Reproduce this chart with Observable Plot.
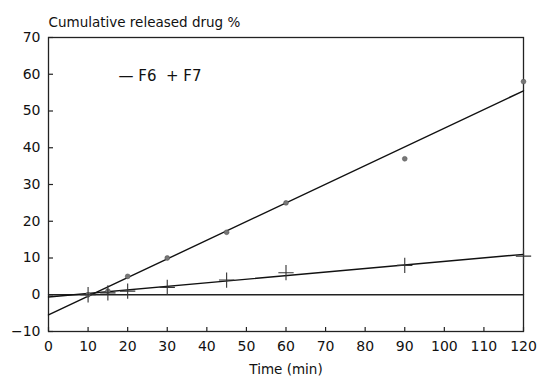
<!DOCTYPE html>
<html>
<head>
<meta charset="utf-8">
<script src="https://cdn.jsdelivr.net/npm/d3@7"></script>
<script src="https://cdn.jsdelivr.net/npm/@observablehq/plot@0.6"></script>
<style>
  body { margin: 0; background: #fff; }
</style>
</head>
<body>
<div id="chart"></div>
<script>
const times = [10, 15, 20, 30, 45, 60, 90, 120];
const f6 = [0, 1, 5, 10, 17, 25, 37, 58];
const f7 = [0, 0.5, 1, 2, 4, 6, 8, 10.5];
const fitF6 = [{x: 0, y: -5.5}, {x: 120, y: 55.5}];
const fitF7 = [{x: 0, y: -0.6}, {x: 120, y: 11}];
const zeroLine = [{x: 0, y: 0}, {x: 120, y: 0}];
const xTicks = d3.range(0, 121, 10);
const yTicks = d3.range(-10, 71, 10);

const pts6 = times.map((t, i) => ({x: t, y: f6[i]}));
const pts7 = times.map((t, i) => ({x: t, y: f7[i]}));

const W = 542, H = 381, mL = 48, mR = 19, mT = 37, mB = 50;
const fw = W - mL - mR, fh = H - mT - mB;

const chart = Plot.plot({
  width: W, height: H,
  marginLeft: mL, marginRight: mR, marginTop: mT, marginBottom: mB,
  style: {fontFamily: "DejaVu Sans", fontSize: "13px", color: "#111", background: "#fff"},
  x: {domain: [0, 120]},
  y: {domain: [-10, 70]},
  marks: [
    Plot.frame({stroke: "#222", strokeWidth: 1.3}),
    Plot.axisX({ticks: xTicks, tickSize: 0, tickPadding: 10, label: null, fontSize: 14}),
    Plot.axisY({ticks: yTicks, tickSize: 0, tickPadding: 8, label: null, fontSize: 14}),
    Plot.tickX(xTicks, {x: d => d, insetTop: fh - 4, stroke: "#222", strokeWidth: 1.2}),
    Plot.tickY(yTicks, {y: d => d, insetRight: fw - 5, stroke: "#222", strokeWidth: 1.2}),
    Plot.line(zeroLine, {x: "x", y: "y", stroke: "#222", strokeWidth: 1.3}),
    Plot.line(fitF6, {x: "x", y: "y", stroke: "#111", strokeWidth: 1.4}),
    Plot.line(fitF7, {x: "x", y: "y", stroke: "#111", strokeWidth: 1.4}),
    Plot.dot(pts6, {x: "x", y: "y", r: 2.4, fill: "#777", stroke: "#555", strokeWidth: 0.6}),
    Plot.dot(pts7, {x: "x", y: "y", symbol: "plus", r: 5, stroke: "#333", strokeWidth: 1.1}),
    Plot.text(["Cumulative released drug %"], {frameAnchor: "top-left", dy: -20, textAnchor: "start", fontSize: 13.5}),
    Plot.text(["Time (min)"], {frameAnchor: "bottom", dy: 42, fontSize: 13.5}),
    Plot.text(["\u2014 F6  + F7"], {frameAnchor: "top-left", dx: 70, dy: 33, textAnchor: "start", fontSize: 15})
  ]
});
document.getElementById("chart").appendChild(chart);
</script>
</body>
</html>
